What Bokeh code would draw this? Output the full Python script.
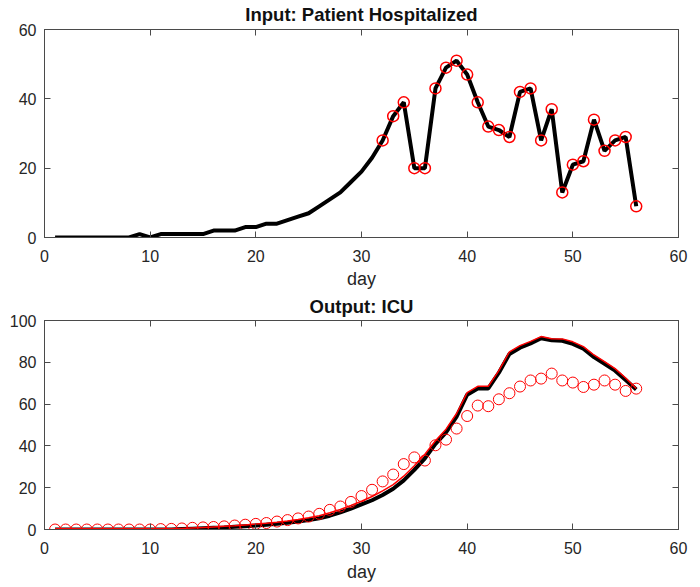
from bokeh.plotting import figure
from bokeh.layouts import column
from bokeh.models import Range1d, LinearAxis, FixedTicker, CustomLabelingPolicy
from bokeh.embed import file_html
from bokeh.resources import INLINE

# ---- data ----
days = list(range(1, 57))
hospitalized = [0, 0, 0, 0, 0, 0, 0, 0, 1, 0, 1, 1, 1, 1, 1, 2, 2, 2, 3, 3,
                4, 4, 5, 6, 7, 9, 11, 13, 16, 19, 23, 28, 35, 39, 20, 20, 43, 49, 51, 47,
                39, 32, 31, 29, 42, 43, 28, 37, 13, 21, 22, 34, 25, 28, 29, 9]
input_marked_days = list(range(32, 57))
input_marked_vals = hospitalized[31:]

icu_black = [0, 0, 0, 0, 0, 0, 0, 0, 0, 0, 0, 0, 0.2, 0.4, 0.6, 0.8, 1.0, 1.3, 1.6, 1.9,
             2.3, 2.7, 3.2, 3.8, 4.5, 5.4, 6.6, 8.2, 10, 12, 14, 16.5, 19.5, 23.5, 28.5, 34, 41, 46.5, 54, 64.5,
             67.5, 67.5, 75, 84, 87, 89, 91.5, 90.5, 90.3, 88.8, 86.5, 82.5, 79.3, 76, 71.5, 67]
icu_red = [0.3, 0.3, 0.3, 0.3, 0.3, 0.3, 0.3, 0.3, 0.3, 0.3, 0.3, 0.3, 0.5, 0.7, 0.9, 1.2, 1.5, 1.8, 2.2, 2.6,
           3.0, 3.5, 4.1, 4.8, 5.6, 6.6, 8.0, 9.6, 11.5, 13.5, 15.8, 18.5, 21.5, 25.5, 30.5, 36, 42.5, 48, 55.5, 65.5,
           68.5, 68.5, 76, 85, 88, 90, 92.3, 91.3, 91.2, 89.8, 87.5, 83.5, 80.3, 77, 72.5, 67.5]
icu_observed = [0, 0, 0, 0, 0, 0, 0, 0, 0, 0, 0.2, 0.3, 0.5, 0.8, 1.0, 1.2, 1.5, 1.9, 2.3, 2.7,
                3.1, 3.8, 4.5, 5.3, 6.2, 7.5, 9.4, 11, 13.2, 16, 19, 23, 26.3, 31.3, 34.5, 33, 40.3, 43, 48.3, 54.3,
                59.3, 59, 62.3, 65.2, 68.4, 71.3, 72.2, 74.6, 71.3, 70.3, 68.2, 69.3, 71.3, 69.3, 66.3, 67.4]

x_ticks = [0, 10, 20, 30, 40, 50, 60]
y_ticks_top = [0, 20, 40, 60]
y_ticks_bottom = [0, 20, 40, 60, 80, 100]

FONT = "Liberation Sans"
AX = "#4a4a4a"
TXT = "#262626"


def style(p, yticks, title_standoff, label_standoff):
    p.xgrid.visible = False
    p.ygrid.visible = False
    p.outline_line_color = AX
    p.outline_line_width = 1
    p.title.text_font = FONT
    p.title.text_font_size = "18.5px"
    p.title.text_font_style = "bold"
    p.title.text_color = "#111111"
    p.title.align = "center"
    p.title.standoff = title_standoff
    # extra axes that only carry the inward ticks on the top and right edges
    hide = CustomLabelingPolicy(code="return null")
    p.add_layout(LinearAxis(major_label_policy=hide), "above")
    p.add_layout(LinearAxis(major_label_policy=hide), "right")
    for ax in p.axis:
        ax.axis_line_color = AX
        ax.major_tick_line_color = AX
        ax.minor_tick_line_color = None
        ax.major_tick_in = 6
        ax.major_tick_out = 0
        ax.major_label_text_font = FONT
        ax.major_label_text_font_size = "16px"
        ax.major_label_text_color = TXT
        ax.major_label_standoff = 8
    for ax in p.above + p.right:
        if isinstance(ax, LinearAxis):
            ax.major_label_text_font_size = "1px"
            ax.major_label_standoff = 0
    for ax in p.xaxis:
        ax.ticker = FixedTicker(ticks=x_ticks)
    for ax in p.yaxis:
        ax.ticker = FixedTicker(ticks=yticks)
    xa = p.below[0]
    xa.major_label_standoff = 12
    xa.axis_label = "day"
    xa.axis_label_text_font = FONT
    xa.axis_label_text_font_size = "18px"
    xa.axis_label_text_font_style = "normal"
    xa.axis_label_text_color = TXT
    xa.axis_label_standoff = label_standoff


p1 = figure(width=700, height=293, output_backend="svg", toolbar_location=None,
            x_range=Range1d(0, 60), y_range=Range1d(0, 60),
            title="Input: Patient Hospitalized",
            min_border_left=44, min_border_right=22, min_border_top=28, min_border_bottom=56)
p1.line(days, hospitalized, line_color="black", line_width=4)
p1.scatter(input_marked_days, input_marked_vals, marker="circle", size=11,
           fill_color=None, line_color="#ff0000", line_width=1.5)
style(p1, y_ticks_top, 2, 4)

p2 = figure(width=700, height=294, output_backend="svg", toolbar_location=None,
            x_range=Range1d(0, 60), y_range=Range1d(0, 100),
            title="Output: ICU",
            min_border_left=44, min_border_right=22, min_border_top=26, min_border_bottom=58)
p2.line(days, icu_black, line_color="black", line_width=4)
p2.line(days, icu_red, line_color="#ff0000", line_width=1.5)
p2.scatter(days, icu_observed, marker="circle", size=11,
           fill_color=None, line_color="#ff0000", line_width=1)
style(p2, y_ticks_bottom, 0, 5)

layout = column(p1, p2)
open("out.html", "w").write(file_html(layout, INLINE))
